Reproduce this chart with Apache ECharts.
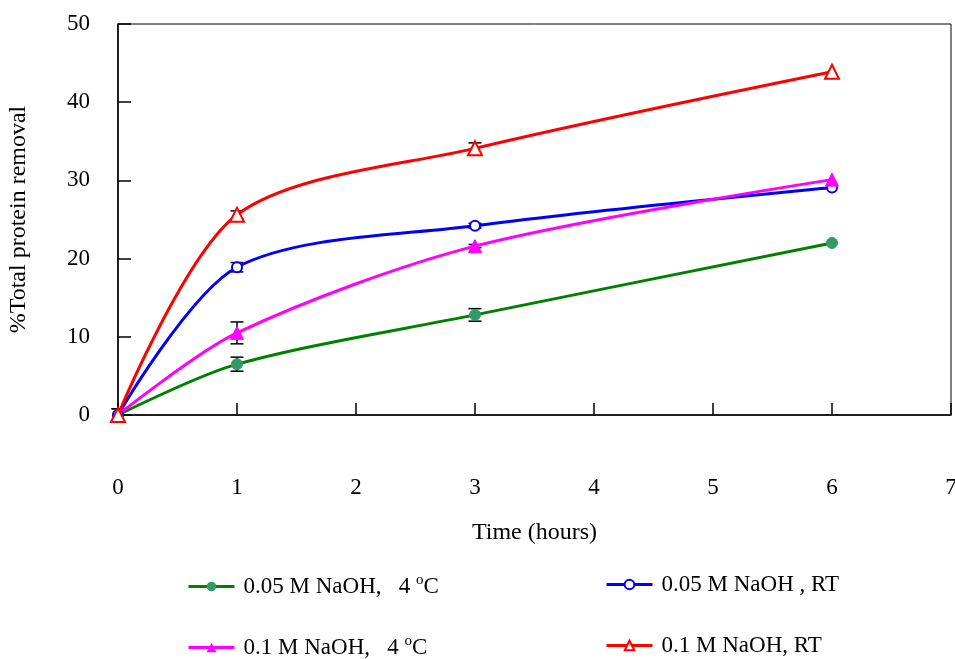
<!DOCTYPE html>
<html>
<head>
<meta charset="utf-8">
<script src="https://cdn.jsdelivr.net/npm/echarts@6/dist/echarts.min.js"></script>
<style>html,body{margin:0;padding:0;background:#fff}#chart{width:955px;height:659px}</style>
</head>
<body>
<div id="chart"></div>
<script>
var times = [0, 1, 3, 6];
var naoh005Cold = [0, 6.5, 12.8, 22.0];
var naoh005RT = [0, 18.9, 24.2, 29.1];
var naoh01Cold = [0, 10.5, 21.6, 30.1];
var naoh01RT = [0, 25.6, 34.1, 43.9];
var err005Cold = [0.8, 0.9, 0.8, 0];
var err005RT = [0.8, 0.6, 0.3, 0];
var err01Cold = [0, 1.4, 0.2, 0];
var err01RT = [0, 0.5, 0.7, 0];
var legendNames = ['0.05 M NaOH,   4 {sup|o}C', '0.05 M NaOH , RT', '0.1 M NaOH,   4 {sup|o}C', '0.1 M NaOH, RT'];

var font = 'Liberation Serif';
var myChart = echarts.init(document.getElementById('chart'));

function pairs(vals){
    var out = [];
    for (var i = 0; i < times.length; i++) out.push([times[i], vals[i]]);
    return out;
}
function errData(vals, errs){
    var out = [];
    for (var i = 0; i < times.length; i++) {
        if (errs[i] > 0) out.push([times[i], vals[i] - errs[i], vals[i] + errs[i]]);
    }
    return out;
}
function errSeries(vals, errs){
    return {
        type: 'custom',
        z: 1,
        silent: true,
        data: errData(vals, errs),
        encode: {x: 0, y: [1, 2]},
        renderItem: function(params, api){
            var lo = api.coord([api.value(0), api.value(1)]);
            var hi = api.coord([api.value(0), api.value(2)]);
            var w = 6.5;
            var st = {stroke: '#000', lineWidth: 1.5};
            return {type: 'group', children: [
                {type: 'line', shape: {x1: lo[0], y1: lo[1], x2: hi[0], y2: hi[1]}, style: st},
                {type: 'line', shape: {x1: lo[0]-w, y1: lo[1], x2: lo[0]+w, y2: lo[1]}, style: st},
                {type: 'line', shape: {x1: hi[0]-w, y1: hi[1], x2: hi[0]+w, y2: hi[1]}, style: st}
            ]};
        }
    };
}
var richSup = {sup: {fontSize: 15, verticalAlign: 'top', padding: [0, 0, 12, 0], fontFamily: font, color: '#000'}};
function legendAt(i, left, top){
    return {
        data: [legendNames[i]],
        left: left, top: top,
        itemWidth: 46, itemHeight: 12,
        itemGap: 10,
        lineStyle: {width: 3},
        textStyle: {fontFamily: font, fontSize: 23, color: '#000', padding: [0, 0, 0, 4], rich: richSup}
    };
}

var option = {
    animation: false,
    grid: {left: 118, top: 24, right: 4, bottom: 244, outerBoundsMode: 'none', show: true, borderColor: '#000', borderWidth: 1},
    legend: [
        legendAt(0, 182, 568),
        legendAt(1, 600, 568),
        legendAt(2, 182, 629),
        legendAt(3, 600, 629)
    ],
    xAxis: {
        type: 'value', min: 0, max: 7, interval: 1,
        name: 'Time (hours)', nameLocation: 'middle', nameGap: 106,
        nameTextStyle: {fontFamily: font, fontSize: 24, color: '#000'},
        axisLine: {lineStyle: {color: '#000', width: 1.5}},
        axisTick: {inside: true, length: 12, lineStyle: {color: '#000', width: 1.5}},
        axisLabel: {margin: 61, fontFamily: font, fontSize: 23, color: '#000'},
        splitLine: {show: false}
    },
    yAxis: {
        type: 'value', min: 0, max: 50, interval: 10,
        name: '%Total protein removal', nameLocation: 'middle', nameGap: 87,
        nameTextStyle: {fontFamily: font, fontSize: 24, color: '#000'},
        axisLine: {show: true, lineStyle: {color: '#000', width: 1.5}},
        axisTick: {show: true, inside: true, length: 13, lineStyle: {color: '#000', width: 1.5}},
        axisLabel: {margin: 28, fontFamily: font, fontSize: 23, color: '#000'},
        splitLine: {show: false}
    },
    series: [
        errSeries(naoh005Cold, err005Cold),
        errSeries(naoh005RT, err005RT),
        errSeries(naoh01Cold, err01Cold),
        errSeries(naoh01RT, err01RT),
        {
            name: legendNames[0], type: 'line', smooth: 0.3, z: 3,
            data: pairs(naoh005Cold),
            symbol: 'circle', symbolSize: 11,
            lineStyle: {color: '#008000', width: 3},
            itemStyle: {color: '#339966', borderColor: '#339966'}
        },
        {
            name: legendNames[1], type: 'line', smooth: 0.3, z: 3,
            data: pairs(naoh005RT),
            symbol: 'emptyCircle', symbolSize: 10,
            lineStyle: {color: '#0000ff', width: 3},
            itemStyle: {color: '#0000ff', borderColor: '#0000ff', borderWidth: 1.5}
        },
        {
            name: legendNames[2], type: 'line', smooth: 0.3, z: 3,
            data: pairs(naoh01Cold),
            symbol: 'triangle', symbolSize: 13,
            lineStyle: {color: '#ff00ff', width: 3},
            itemStyle: {color: '#ff00ff', borderColor: '#ff00ff'}
        },
        {
            name: legendNames[3], type: 'line', smooth: 0.3, z: 4,
            data: pairs(naoh01RT),
            symbol: 'emptyTriangle', symbolSize: 14,
            lineStyle: {color: '#ff0000', width: 3},
            itemStyle: {color: '#ff0000', borderColor: '#ff0000', borderWidth: 1.5}
        }
    ]
};
myChart.setOption(option);
</script>
</body>
</html>
